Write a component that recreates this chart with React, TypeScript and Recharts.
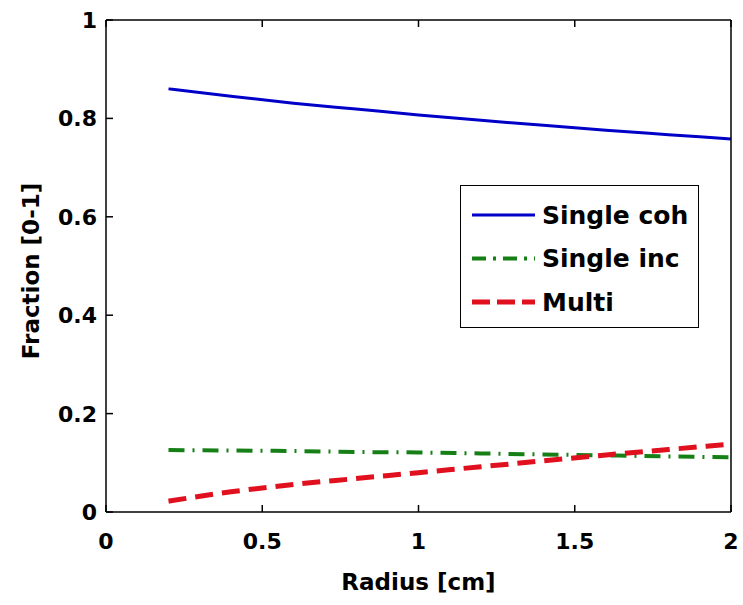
import React from 'react';
import { LineChart, Line, XAxis, YAxis } from 'recharts';

const radius = [0.2, 0.4, 0.6, 0.8, 1.0, 1.2, 1.4, 1.6, 1.8, 2.0];
const singleCoh = [0.86, 0.845, 0.831, 0.819, 0.807, 0.796, 0.786, 0.776, 0.767, 0.758];
const singleInc = [0.126, 0.125, 0.124, 0.122, 0.121, 0.119, 0.117, 0.115, 0.113, 0.111];
const multi = [0.022, 0.041, 0.056, 0.068, 0.08, 0.092, 0.104, 0.116, 0.127, 0.138];

const xTicks = [0, 0.5, 1, 1.5, 2];
const yTicks = [0, 0.2, 0.4, 0.6, 0.8, 1];

const data = radius.map((r, i) => ({
  r,
  coh: singleCoh[i],
  inc: singleInc[i],
  multi: multi[i],
}));

const FONT = '"DejaVu Sans", sans-serif';
const TICK_LEN = 7;
const X_GAP = 21;
const Y_GAP = 9;

const series = [
  { key: 'coh', name: 'Single coh', color: '#0000c8', width: 3, dash: undefined, legendDash: undefined },
  { key: 'inc', name: 'Single inc', color: '#168016', width: 4, dash: '16 8 2 8', legendDash: '14 7 3 7' },
  { key: 'multi', name: 'Multi', color: '#e0101e', width: 5, dash: '18 9', legendDash: '18 7' },
];

// inward tick marks (matlab style) drawn together with the labels
const BottomTick = ({ x, y, payload }: any) => (
  <g>
    <line x1={x} x2={x} y1={y - X_GAP} y2={y - X_GAP - TICK_LEN} stroke="#000" strokeWidth={1.5} />
    <text x={x} y={y} dy="0.72em" textAnchor="middle" fontSize={22} fontWeight="bold" fontFamily={FONT} fill="#000">
      {payload.value}
    </text>
  </g>
);

const LeftTick = ({ x, y, payload }: any) => (
  <g>
    <line x1={x + Y_GAP} x2={x + Y_GAP + TICK_LEN} y1={y} y2={y} stroke="#000" strokeWidth={1.5} />
    <text x={x} y={y} dy="0.36em" textAnchor="end" fontSize={22} fontWeight="bold" fontFamily={FONT} fill="#000">
      {payload.value}
    </text>
  </g>
);

const TopTick = ({ x, y }: any) => (
  <line x1={x} x2={x} y1={y} y2={y + TICK_LEN} stroke="#000" strokeWidth={1.5} />
);

const RightTick = ({ x, y }: any) => (
  <line x1={x} x2={x - TICK_LEN} y1={y} y2={y} stroke="#000" strokeWidth={1.5} />
);

// MATLAB-style boxed legend, placed inside the plot area
const LegendBox = () => (
  <div
    style={{
      position: 'absolute',
      left: 460,
      top: 185,
      width: 239,
      height: 143,
      border: '1.5px solid #000',
      background: '#fff',
      boxSizing: 'border-box',
    }}
  >
    <svg width={236} height={140} style={{ display: 'block' }}>
      {series.map((s, i) => {
        const cy = 29 + i * 43.5;
        return (
          <g key={s.key}>
            <line x1={11} x2={74} y1={cy} y2={cy} stroke={s.color} strokeWidth={s.width} strokeDasharray={s.legendDash} />
            <text
              x={81}
              y={cy}
              dominantBaseline="central"
              fontSize={25}
              fontWeight="bold"
              fontFamily={FONT}
              fill="#000"
            >
              {s.name}
            </text>
          </g>
        );
      })}
    </svg>
  </div>
);

const App: React.FC = () => {
  return (
    <div style={{ position: 'absolute', left: 0, top: 0, width: 743, height: 605, background: '#fff' }}>
      <LineChart width={743} height={605} data={data} margin={{ top: 19, right: 11, bottom: 0, left: 0 }}>
        <XAxis
          dataKey="r"
          type="number"
          domain={[0, 2]}
          ticks={xTicks}
          height={93}
          tickSize={0}
          tickMargin={X_GAP}
          tick={<BottomTick />}
          stroke="#000"
          strokeWidth={1.5}
          label={{
            content: ({ viewBox }: any) => (
              <text
                x={viewBox.x + viewBox.width / 2}
                y={viewBox.y + viewBox.height - 15}
                textAnchor="middle"
                fontSize={23}
                fontWeight="bold"
                fontFamily={FONT}
                fill="#000"
              >
                Radius [cm]
              </text>
            ),
          }}
        />
        <XAxis
          xAxisId="top"
          orientation="top"
          dataKey="r"
          type="number"
          domain={[0, 2]}
          ticks={xTicks}
          height={1}
          tickSize={0}
          tickMargin={0}
          tick={<TopTick />}
          stroke="#000"
          strokeWidth={1.5}
        />
        <YAxis
          type="number"
          domain={[0, 1]}
          ticks={yTicks}
          width={106}
          tickSize={0}
          tickMargin={Y_GAP}
          tick={<LeftTick />}
          stroke="#000"
          strokeWidth={1.5}
          label={{
            content: ({ viewBox }: any) => {
              const cx = viewBox.x + 31;
              const cy = viewBox.y + viewBox.height / 2 + 5;
              return (
                <text
                  x={cx}
                  y={cy}
                  transform={`rotate(-90 ${cx} ${cy})`}
                  textAnchor="middle"
                  dominantBaseline="central"
                  fontSize={23}
                  fontWeight="bold"
                  fontFamily={FONT}
                  fill="#000"
                >
                  Fraction [0-1]
                </text>
              );
            },
          }}
        />
        <YAxis
          yAxisId="right"
          orientation="right"
          type="number"
          domain={[0, 1]}
          ticks={yTicks}
          width={1}
          tickSize={0}
          tickMargin={0}
          tick={<RightTick />}
          stroke="#000"
          strokeWidth={1.5}
        />
        {series.map((s) => (
          <Line
            key={s.key}
            dataKey={s.key}
            name={s.name}
            type="monotone"
            stroke={s.color}
            strokeWidth={s.width}
            strokeDasharray={s.dash}
            dot={false}
            activeDot={false}
            isAnimationActive={false}
          />
        ))}
      </LineChart>
      <LegendBox />
    </div>
  );
};

export default App;
